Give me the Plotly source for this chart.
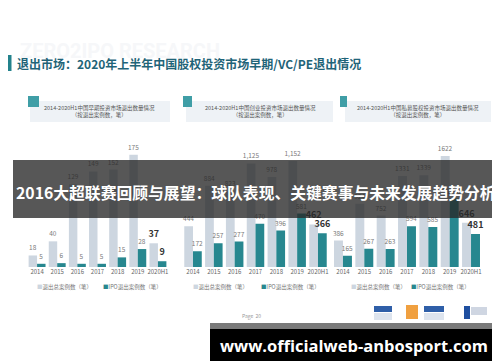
import plotly.graph_objects as go

years = ["2014", "2015", "2016", "2017", "2018", "2019", "2020H1"]
early_total = [18, 40, 129, 149, 152, 175, 37]
early_ipo = [5, 6, 5, 5, 15, 28, 9]
vc_total = [444, 884, 823, 1125, 978, 1152, 462]
vc_ipo = [172, 257, 277, 470, 396, 581, 366]
pe_total = [386, 924, 752, 1331, 1339, 1622, 646]
pe_ipo = [165, 267, 263, 594, 585, 1000, 481]

panel_titles = [
    "2014-2020H1中国早期投资市场退出数量情况",
    "2014-2020H1中国创业投资市场退出数量情况",
    "2014-2020H1中国私募股权投资市场退出数量情况",
]
legend_total = "退出总案例数（笔）"
legend_ipo = "IPO退出案例数（笔）"

W, H = 500, 362
TOTAL_C = "#cdd6e0"
IPO_C = "#27878f"
FONT = "Noto Sans CJK SC"


def px(x):
    return x / W


def py(y):
    return 1 - y / H


def labels(vals, comma=False):
    out = []
    for i, v in enumerate(vals):
        s = f"{v:,}" if comma else str(v)
        if i == len(vals) - 1:
            s = "<b>" + s + "</b>"
        out.append(s)
    return out


sizes = [6.5] * 6 + [9]
colors = ["#7a7a7a"] * 6 + ["#333333"]

fig = go.Figure()
series = [
    (early_total, early_ipo, False, "x", "y"),
    (vc_total, vc_ipo, True, "x2", "y2"),
    (pe_total, pe_ipo, False, "x3", "y3"),
]
for tot, ipo, comma, xa, ya in series:
    for vals, col in ((tot, TOTAL_C), (ipo, IPO_C)):
        fig.add_trace(go.Bar(
            x=years, y=vals, marker_color=col, marker_line_width=0,
            text=labels(vals, comma), textposition="outside",
            textfont=dict(size=sizes, color=colors, family=FONT),
            constraintext="none", cliponaxis=False,
            xaxis=xa, yaxis=ya, showlegend=False, hoverinfo="skip",
        ))

x_domains = [(19, 160), (174.6, 320.4), (324.3, 473.7)]
y_max = [248, 1728, 2323]
ydom = [py(259), py(100)]
layout = {}
for i, ((a, b), ym) in enumerate(zip(x_domains, y_max)):
    sfx = "" if i == 0 else str(i + 1)
    layout["xaxis" + sfx] = dict(
        domain=[px(a), px(b)], anchor="y" + sfx, showline=False, showgrid=False,
        zeroline=False, ticks="", tickangle=0,
        tickfont=dict(size=6, color="#666666", family=FONT),
        fixedrange=True,
    )
    layout["yaxis" + sfx] = dict(
        domain=ydom, anchor="x" + sfx, range=[0, ym], visible=False, fixedrange=True,
    )

shapes = []
annotations = []

# watermark and title
annotations.append(dict(
    x=px(10), y=py(43), xref="paper", yref="paper", xanchor="left", yanchor="middle",
    text="<b>ZERO2IPO RESEARCH</b>", showarrow=False,
    font=dict(size=20, color="#f6f7f9", family="Roboto"),
))
shapes.append(dict(type="rect", xref="paper", yref="paper", x0=0, x1=px(3.5),
                   y0=py(63), y1=py(47), fillcolor="#23828c", line_width=0))
annotations.append(dict(
    x=px(7), y=py(55), xref="paper", yref="paper", xanchor="left", yanchor="middle",
    text="<b>退出市场：2020年上半年中国股权投资市场早期/VC/PE退出情况</b>", showarrow=False,
    font=dict(size=12, color="#1f6478", family=FONT),
))

# panel headers
headers = [
    ((22, 162), (20, 31), 91),
    ((178, 325), (175, 184), 252),
    ((337, 483), (332, 339), 410),
]
for (bx0, bx1), (sx0, sx1), cx in headers:
    shapes.append(dict(type="rect", xref="paper", yref="paper", x0=px(bx0), x1=px(bx1),
                       y0=py(114), y1=py(93), fillcolor="#eef2f6", line_width=0, layer="below"))
    shapes.append(dict(type="rect", xref="paper", yref="paper", x0=px(sx0), x1=px(sx1),
                       y0=py(99), y1=py(88), fillcolor="#3f9ea6", line_width=0))
for t, (_, _, cx) in zip(panel_titles, headers):
    annotations.append(dict(
        x=px(cx), y=py(103), xref="paper", yref="paper", xanchor="center", yanchor="middle",
        text=t + "<br>（按退出案例数，笔）", showarrow=False,
        font=dict(size=5.5, color="#555555", family=FONT),
    ))

# legends
leg_pos = [(56, 124), (212, 282), (370, 432)]
for a, b in leg_pos:
    annotations.append(dict(
        x=px(a), y=py(279), xref="paper", yref="paper", xanchor="center", yanchor="middle",
        text=f"<span style='color:{TOTAL_C}'>■</span>{legend_total}", showarrow=False,
        font=dict(size=5.5, color="#777777", family=FONT),
    ))
    annotations.append(dict(
        x=px(b), y=py(279), xref="paper", yref="paper", xanchor="center", yanchor="middle",
        text=f"<span style='color:{IPO_C}'>■</span>{legend_ipo}", showarrow=False,
        font=dict(size=5.5, color="#777777", family=FONT),
    ))

# page number
annotations.append(dict(
    x=px(243), y=py(308), xref="paper", yref="paper", xanchor="center", yanchor="middle",
    text="Page  20", showarrow=False, font=dict(size=5, color="#999999", family=FONT),
))

# logos (simple blocks)
logo_blocks = [
    (366, 384, 298, 304, "#2f5fa8"), (366, 384, 305, 312, "#dde4ee"),
    (398, 410, 297, 311, "#f0a040"),
    (416, 436, 298, 304, "#2f5fa8"), (416, 436, 305, 312, "#dde4ee"),
    (456, 462, 298, 311, "#1f4fa0"), (463, 479, 299, 307, "#cfd6e2"),
]
for x0, x1, y0, y1, c in logo_blocks:
    shapes.append(dict(type="rect", xref="paper", yref="paper", x0=px(x0), x1=px(x1),
                       y0=py(y1), y1=py(y0), fillcolor=c, line_width=0))

# banner overlay
shapes.append(dict(type="rect", xref="paper", yref="paper", x0=px(5), x1=px(495),
                   y0=py(210), y1=py(152), fillcolor="rgba(40,40,40,0.78)", line_width=0,
                   layer="above"))
annotations.append(dict(
    x=px(248), y=py(184), xref="paper", yref="paper", xanchor="center", yanchor="middle",
    text="<b>2016大超联赛回顾与展望：球队表现、关键赛事与未来发展趋势分析</b>", showarrow=False,
    font=dict(size=15.8, color="#ffffff", family=FONT),
))

# bottom website banner
shapes.append(dict(type="rect", xref="paper", yref="paper", x0=px(202), x1=px(490),
                   y0=py(321), y1=py(315), fillcolor="#7a7a7a", line_width=0, layer="above"))
shapes.append(dict(type="rect", xref="paper", yref="paper", x0=px(202), x1=px(490),
                   y0=py(353), y1=py(321), fillcolor="#000000", line_width=0, layer="above"))
annotations.append(dict(
    x=px(346), y=py(337), xref="paper", yref="paper", xanchor="center", yanchor="middle",
    text="<b>www.officialweb-anbosport.com</b>", showarrow=False,
    font=dict(size=16.5, color="#ffffff", family="Open Sans"),
))

fig.update_layout(
    width=W, height=H, margin=dict(l=0, r=0, t=0, b=0),
    paper_bgcolor="#ffffff", plot_bgcolor="rgba(0,0,0,0)",
    barmode="group", bargap=0.16, bargroupgap=0,
    shapes=shapes, annotations=annotations, **layout,
)
fig.write_html("out.html")
